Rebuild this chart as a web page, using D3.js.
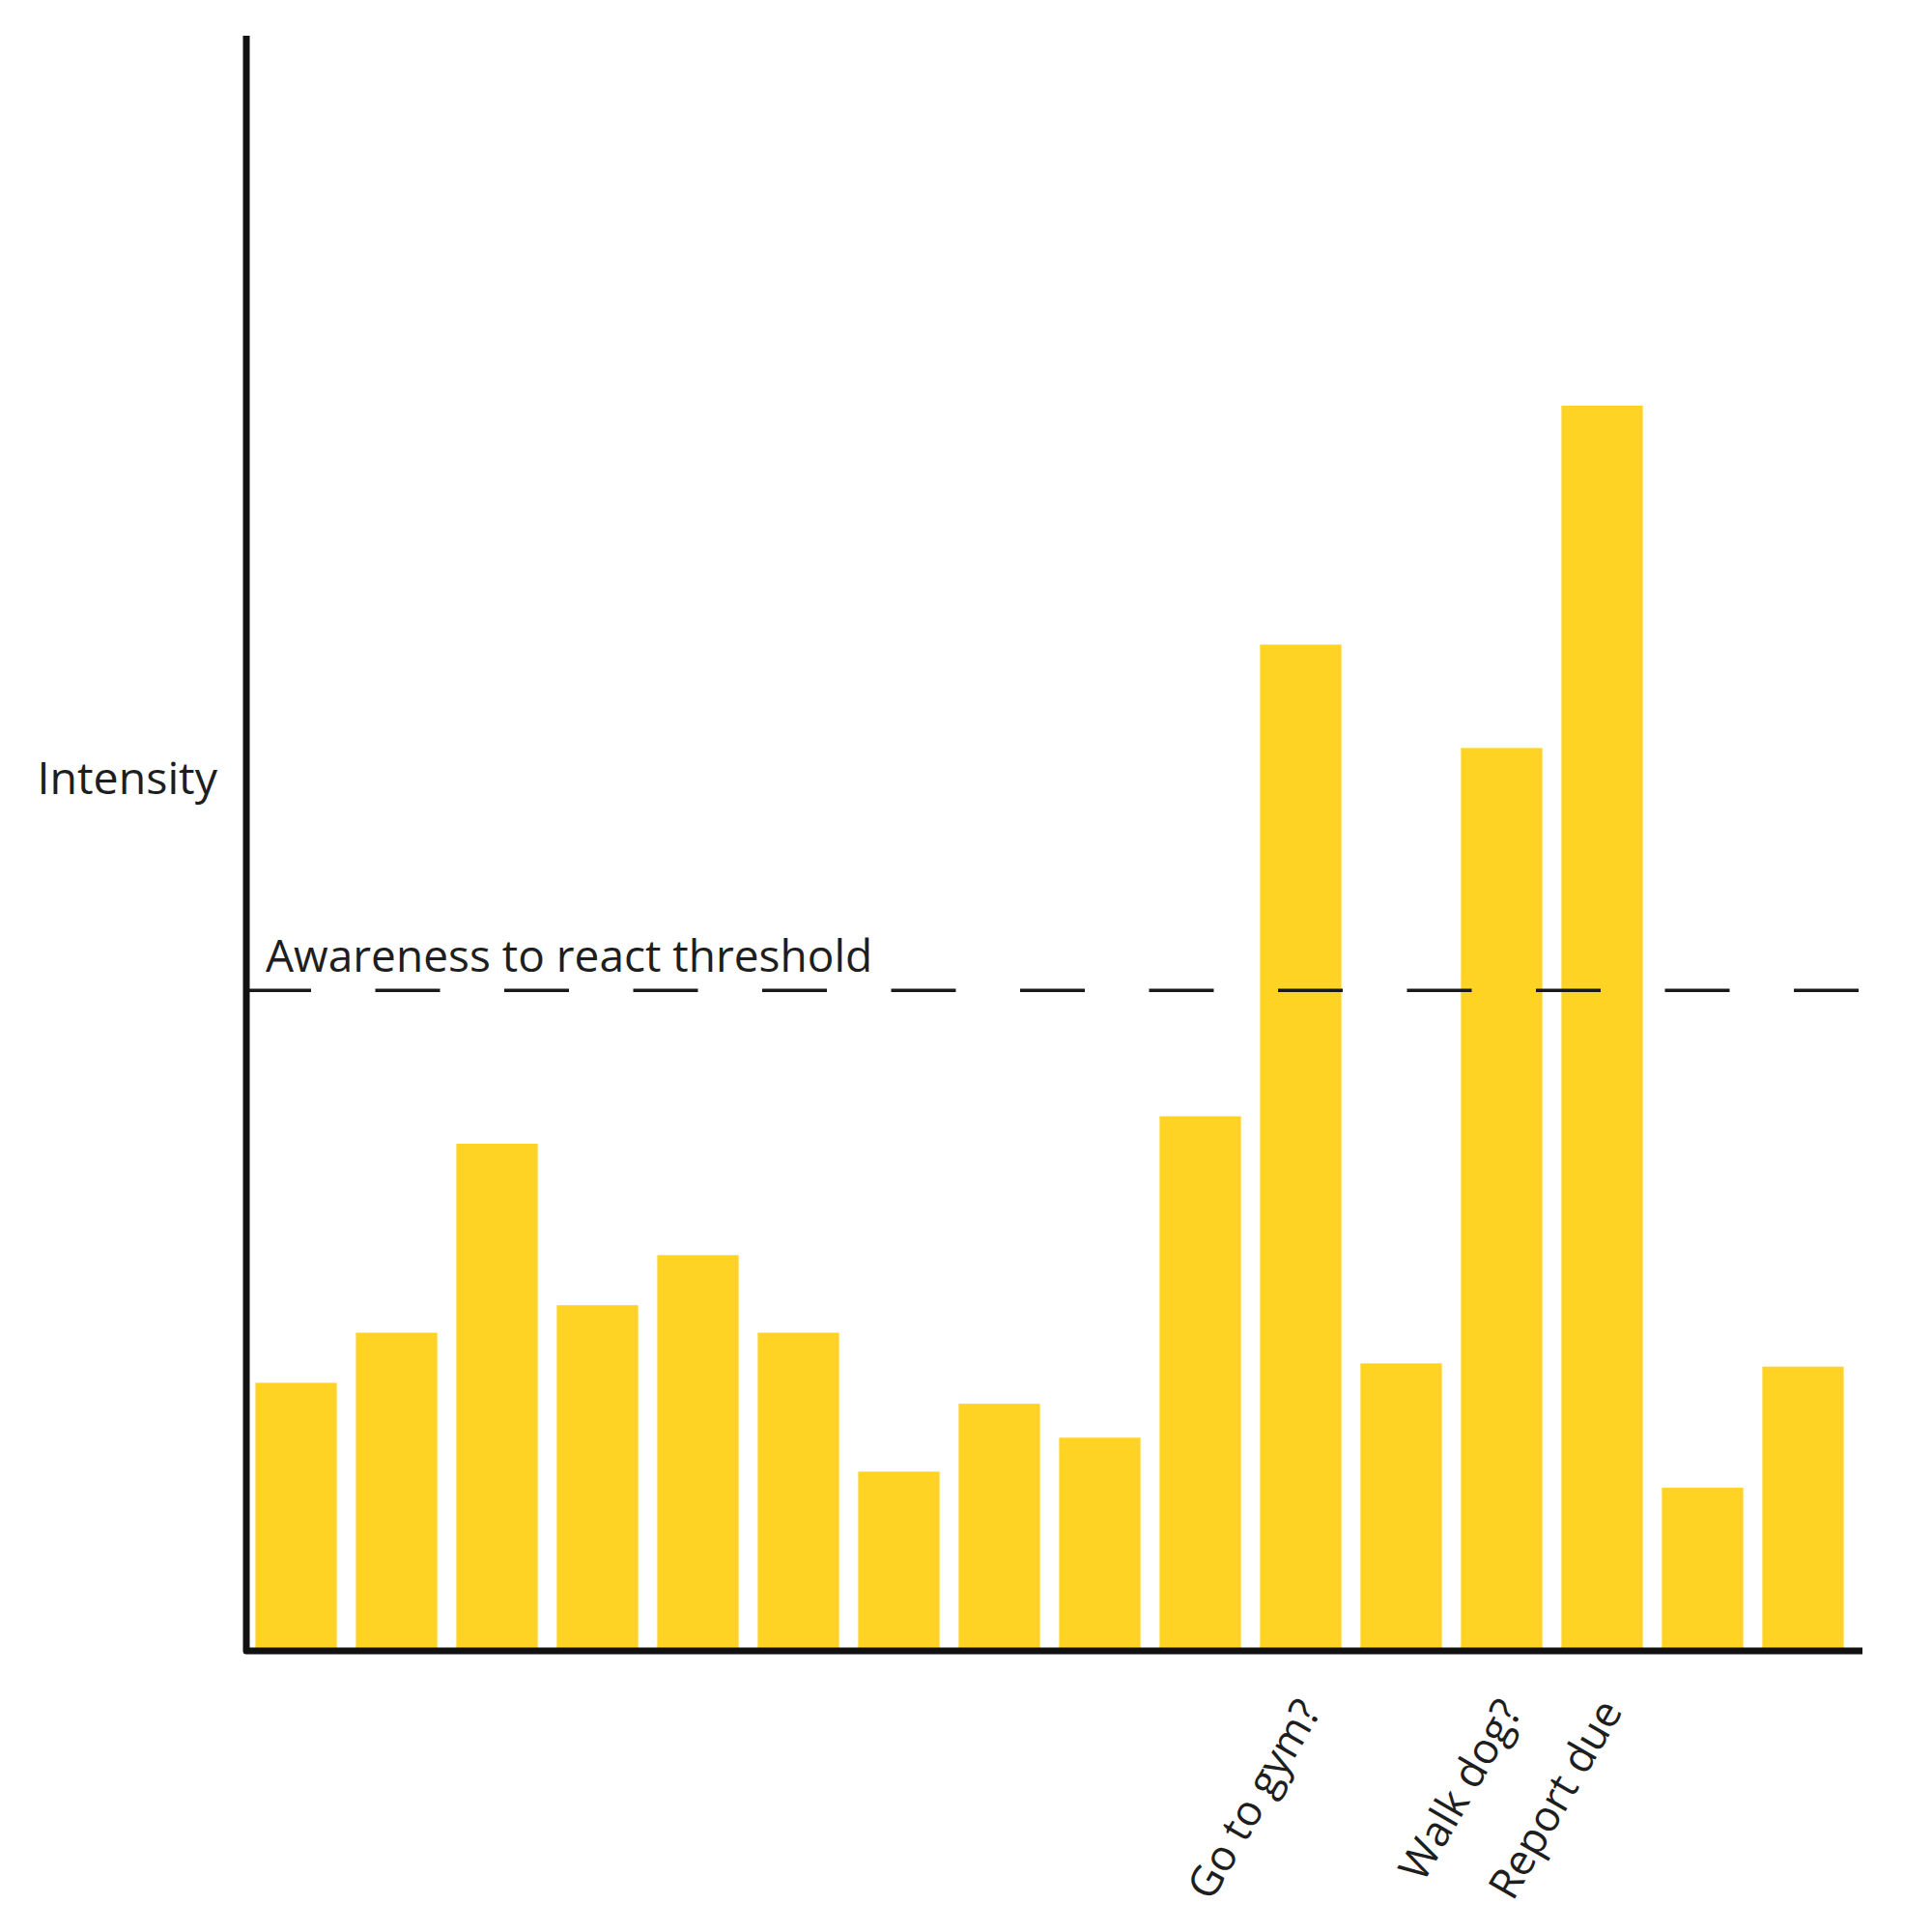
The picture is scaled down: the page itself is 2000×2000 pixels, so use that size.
<!DOCTYPE html>
<html>
<head>
<meta charset="utf-8">
<script src="https://cdn.jsdelivr.net/npm/d3@7"></script>
<style>
  html, body { margin: 0; padding: 0; background: #ffffff; }
  text { font-family: "Open Sans", "Noto Sans", sans-serif; fill: #1e1e1e; }
</style>
</head>
<body>
<div id="app"></div>
<script>
// bar slots, left to right (only a few carry a label)
const SLOTS = d3.range(1, 17).map(i => `slot${i}`);
const SLOT_LABELS = ['', '', '', '', '', '', '', '', '', '',
  'Go to gym?', '', 'Walk dog?', 'Report due', '', ''];
// intensity of each slot, in % of the axis height
const INTENSITY = [16.6, 19.7, 31.4, 21.4, 24.5, 19.7, 11.1, 15.3,
  13.2, 33.1, 62.3, 17.8, 55.9, 77.1, 10.1, 17.6];
const THRESHOLD = 40.9;
const THRESHOLD_LABEL = 'Awareness to react threshold';
const Y_LABEL = 'Intensity';

const width = 2000;
const height = 2000;
const axisX = 255;
const baseY = 1709;

const svg = d3.select('#app')
  .append('svg')
  .attr('width', width)
  .attr('height', height);

// scales
const xScale = d3.scaleBand()
  .domain(SLOTS)
  .range([254, 1919])
  .paddingInner(0.19)
  .paddingOuter(0.1);

const yScale = d3.scaleLinear()
  .domain([0, 100])
  .range([baseY, 37]);

// bars
svg.append('g')
  .attr('id', 'bars')
  .selectAll('rect')
  .data(INTENSITY)
  .join('rect')
    .attr('x', (d, i) => xScale(SLOTS[i]))
    .attr('y', d => yScale(d))
    .attr('width', xScale.bandwidth())
    .attr('height', d => yScale(0) - yScale(d))
    .style('fill', '#fed323');

// threshold line, drawn over the bars
const ty = yScale(THRESHOLD);
svg.append('line')
  .attr('x1', axisX)
  .attr('x2', 1926)
  .attr('y1', ty)
  .attr('y2', ty)
  .style('stroke', '#1a1a1a')
  .style('stroke-width', 3.5)
  .style('stroke-dasharray', '67,66.5');

svg.append('text')
  .attr('x', 275)
  .attr('y', ty - 19)
  .style('font-size', '46px')
  .text(THRESHOLD_LABEL);

// axes as one path so the corner joins
svg.append('path')
  .attr('d', `M${axisX},${yScale(100)} V${baseY} H1928`)
  .style('fill', 'none')
  .style('stroke', '#111')
  .style('stroke-width', 7)
  .style('stroke-linejoin', 'round');

svg.append('text')
  .attr('x', 225)
  .attr('y', 822)
  .attr('text-anchor', 'end')
  .style('font-size', '46.5px')
  .text(Y_LABEL);

// slanted slot labels
const xAxis = svg.append('g')
  .attr('id', 'x-axis')
  .attr('transform', `translate(0, ${baseY})`)
  .call(d3.axisBottom(xScale)
    .tickSize(0)
    .tickFormat((d, i) => SLOT_LABELS[i]));

xAxis.select('.domain').remove();
xAxis.selectAll('text')
  .attr('text-anchor', 'end')
  .attr('x', null)
  .attr('y', null)
  .attr('dy', null)
  .attr('transform', 'translate(22, 62) rotate(-60)')
  .style('font-size', '44px')
  .style('font-family', '"Open Sans", "Noto Sans", sans-serif')
  .style('fill', '#1e1e1e');
</script>
</body>
</html>
